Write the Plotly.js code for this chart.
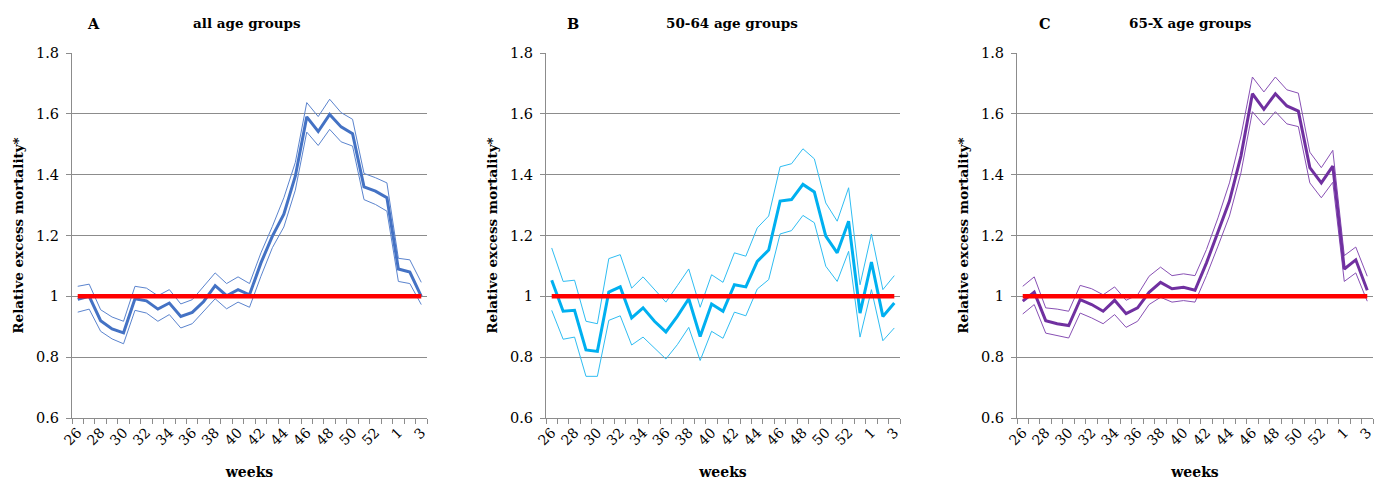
<!DOCTYPE html>
<html>
<head>
<meta charset="utf-8">
<script src="https://cdn.plot.ly/plotly-3.0.1.min.js"></script>
<style>
  html, body { margin: 0; padding: 0; background: #ffffff; }
  #chart { width: 1380px; height: 480px; }
</style>
</head>
<body>
<div id="chart"></div>
<script>
// ---- data ----
const weeks = ['26','27','28','29','30','31','32','33','34','35','36','37','38','39','40',
               '41','42','43','44','45','46','47','48','49','50','51','52','53','1','2','3'];
const tickWeeks = ['26','28','30','32','34','36','38','40','42','44','46','48','50','52','1','3'];

const allMain  = [0.99,1.00,0.92,0.893,0.88,0.992,0.985,0.958,0.978,0.934,0.947,0.983,1.035,1.002,1.022,
                  1.005,1.11,1.198,1.27,1.395,1.59,1.542,1.598,1.557,1.535,1.36,1.346,1.324,1.09,1.08,1.00];
const allUpper = [1.033,1.04,0.956,0.932,0.918,1.033,1.027,1.002,1.022,0.975,0.989,1.033,1.077,1.042,1.064,
                  1.042,1.143,1.23,1.324,1.44,1.637,1.591,1.648,1.604,1.582,1.404,1.39,1.373,1.125,1.12,1.046];
const allLower = [0.948,0.958,0.885,0.86,0.844,0.954,0.945,0.918,0.94,0.896,0.91,0.95,0.992,0.959,0.981,
                  0.964,1.066,1.16,1.228,1.349,1.54,1.496,1.549,1.508,1.494,1.318,1.302,1.28,1.049,1.042,0.973];

const midMain  = [1.053,0.951,0.954,0.824,0.819,1.014,1.031,0.929,0.962,0.918,0.883,0.934,0.992,0.868,0.975,
                  0.951,1.038,1.031,1.115,1.152,1.313,1.318,1.368,1.343,1.198,1.143,1.247,0.945,1.113,0.934,0.978];
const midUpper = [1.159,1.049,1.053,0.918,0.91,1.124,1.137,1.027,1.064,1.022,0.981,1.035,1.09,0.964,1.071,
                  1.046,1.143,1.132,1.225,1.264,1.426,1.436,1.485,1.452,1.307,1.247,1.357,1.038,1.205,1.022,1.068];
const midLower = [0.954,0.859,0.866,0.737,0.737,0.921,0.936,0.84,0.866,0.83,0.794,0.841,0.898,0.789,0.885,
                  0.862,0.948,0.936,1.024,1.055,1.205,1.216,1.266,1.242,1.099,1.049,1.148,0.866,1.022,0.854,0.896];

const oldMain  = [0.984,1.014,0.92,0.91,0.904,0.989,0.973,0.951,0.987,0.943,0.962,1.013,1.046,1.025,1.03,
                  1.02,1.11,1.209,1.313,1.461,1.666,1.615,1.666,1.626,1.609,1.423,1.373,1.428,1.09,1.12,1.02];
const oldUpper = [1.033,1.064,0.962,0.958,0.951,1.036,1.025,1.005,1.031,0.987,1.005,1.066,1.096,1.068,1.074,
                  1.068,1.154,1.258,1.373,1.527,1.721,1.672,1.721,1.679,1.668,1.474,1.423,1.48,1.134,1.162,1.066];
const oldLower = [0.942,0.973,0.879,0.872,0.863,0.945,0.929,0.91,0.94,0.898,0.918,0.973,0.997,0.981,0.986,
                  0.981,1.068,1.165,1.264,1.406,1.607,1.563,1.607,1.567,1.558,1.373,1.324,1.375,1.049,1.077,0.984];

const reference = weeks.map(() => 1);

const panelLetters = ['A', 'B', 'C'];
const panelTitles = ['all age groups', '50-64 age groups', '65-X age groups'];

// ---- build ----
const xIdx = weeks.map((w, i) => i);
const tickIdx = tickWeeks.map(w => weeks.indexOf(w));

const W = 1380, H = 480;
const FONT = 'DejaVu Serif';
const GRID = '#8c8c8c';

const panels = [
  {main: allMain, up: allUpper, lo: allLower, color: '#4472C4', band: '#5B84CE', left: 72, right: 427},
  {main: midMain, up: midUpper, lo: midLower, color: '#00B0F0', band: '#2FBDF2', left: 546, right: 900},
  {main: oldMain, up: oldUpper, lo: oldLower, color: '#7030A0', band: '#8850B4', left: 1017, right: 1373}
];

const traces = [];
const layout = {
  width: W, height: H,
  margin: {l: 0, r: 0, t: 0, b: 0},
  paper_bgcolor: '#ffffff', plot_bgcolor: '#ffffff',
  showlegend: false,
  font: {family: FONT, color: '#000000'},
  annotations: []
};

const yTop = 53, yBot = 418;

panels.forEach((p, k) => {
  const n = k === 0 ? '' : String(k + 1);
  const xa = 'x' + n, ya = 'y' + n;
  [p.up, p.lo].forEach(arr => traces.push({
    type: 'scatter', mode: 'lines', x: xIdx, y: arr, xaxis: xa, yaxis: ya,
    line: {color: p.band, width: 1}, hoverinfo: 'skip'
  }));
  traces.push({
    type: 'scatter', mode: 'lines', x: xIdx, y: p.main, xaxis: xa, yaxis: ya,
    line: {color: p.color, width: 3}
  });
  traces.push({
    type: 'scatter', mode: 'lines', x: xIdx, y: reference, xaxis: xa, yaxis: ya,
    line: {color: '#FF0000', width: 4.5}
  });

  layout['xaxis' + n] = {
    domain: [p.left / W, p.right / W],
    anchor: ya,
    range: [-0.5, weeks.length - 0.5],
    tickmode: 'array', tickvals: tickIdx, ticktext: tickWeeks,
    tickangle: -45, ticks: '',
    tickfont: {family: FONT, size: 14, color: '#000'},
    minor: {tick0: 0.5, dtick: 1, ticks: 'outside', ticklen: 5, tickcolor: GRID, tickwidth: 1, showgrid: false},
    showline: true, linecolor: GRID, linewidth: 1,
    showgrid: false, zeroline: false, fixedrange: true,
    title: {text: 'weeks', font: {family: FONT, size: 14, color: '#000', weight: 'bold'}, standoff: 20}
  };
  layout['yaxis' + n] = {
    domain: [1 - yBot / H, 1 - yTop / H],
    anchor: xa,
    range: [0.6, 1.8], dtick: 0.2, tick0: 0.6,
    ticks: 'outside', ticklen: 5, tickcolor: GRID,
    ticklabelstandoff: 4,
    tickfont: {family: FONT, size: 14.5, color: '#000'},
    showline: true, linecolor: GRID, linewidth: 1,
    showgrid: true, gridcolor: GRID, gridwidth: 1,
    zeroline: false, fixedrange: true,
    title: {text: 'Relative excess mortality*', font: {family: FONT, size: 13.5, color: '#000', weight: 'bold'}, standoff: 9}
  };

  const letterX = [93, 573, 1045][k];
  const titleX = [247, 732, 1190][k];
  layout.annotations.push({
    xref: 'paper', yref: 'paper', x: letterX / W, y: 1 - 23 / H,
    text: '<b>' + panelLetters[k] + '</b>', showarrow: false,
    xanchor: 'center', yanchor: 'middle',
    font: {family: FONT, size: 14.5, color: '#000'}
  });
  layout.annotations.push({
    xref: 'paper', yref: 'paper', x: titleX / W, y: 1 - 23 / H,
    text: '<b>' + panelTitles[k] + '</b>', showarrow: false,
    xanchor: 'center', yanchor: 'middle',
    font: {family: FONT, size: 13.5, color: '#000'}
  });
});

Plotly.newPlot('chart', traces, layout, {staticPlot: true, displayModeBar: false});
</script>
</body>
</html>
